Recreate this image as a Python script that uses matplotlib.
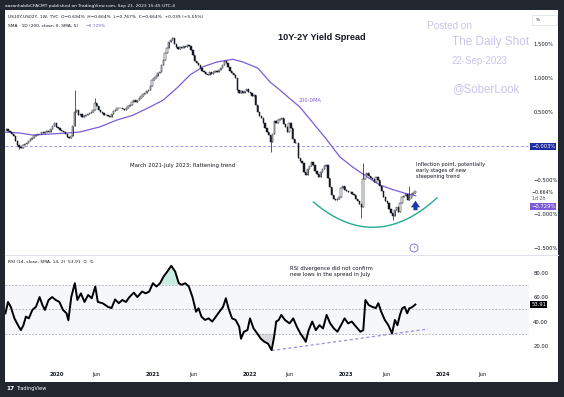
import numpy as np
import pandas as pd
import matplotlib
matplotlib.use('Agg')
import matplotlib.pyplot as plt
from matplotlib.patches import Rectangle, Ellipse

# ---- data ----
# weekly closes of US10Y-US02Y (%), last bar = week of 2023-09-18
closes = [0.23, 0.25, 0.22, 0.20, 0.17, 0.14, 0.08, 0.02, -0.01, -0.03,
          0.01, 0.03, 0.05, 0.07, 0.10, 0.12, 0.14, 0.16, 0.17, 0.18,
          0.20, 0.19, 0.21, 0.22, 0.21, 0.25, 0.30, 0.33, 0.28, 0.26,
          0.24, 0.22, 0.20, 0.17, 0.13, 0.11, 0.15, 0.29, 0.50, 0.53,
          0.45, 0.47, 0.43, 0.44, 0.46, 0.47, 0.48, 0.50, 0.53, 0.63,
          0.58, 0.52, 0.50, 0.48, 0.46, 0.45, 0.44, 0.42, 0.47, 0.51,
          0.53, 0.55, 0.56, 0.55, 0.54, 0.53, 0.56, 0.58, 0.60, 0.64,
          0.67, 0.65, 0.68, 0.71, 0.73, 0.76, 0.78, 0.80, 0.82, 0.88,
          0.97, 1.00, 1.03, 1.07, 1.08, 1.18, 1.26, 1.36, 1.43, 1.52,
          1.55, 1.58, 1.50, 1.45, 1.42, 1.45, 1.43, 1.46, 1.45, 1.48,
          1.47, 1.41, 1.33, 1.25, 1.22, 1.18, 1.14, 1.10, 1.08, 1.06,
          1.04, 1.09, 1.06, 1.08, 1.10, 1.09, 1.12, 1.14, 1.19, 1.24,
          1.22, 1.15, 1.10, 1.07, 1.04, 1.00, 0.82, 0.78, 0.80, 0.78,
          0.81, 0.84, 0.79, 0.77, 0.73, 0.74, 0.60, 0.50, 0.44, 0.41,
          0.33, 0.26, 0.21, 0.16, 0.06, 0.18, 0.36, 0.33, 0.38, 0.40,
          0.41, 0.32, 0.28, 0.20, 0.34, 0.26, 0.10, 0.05, 0.04, -0.17,
          -0.22, -0.25, -0.38, -0.42, -0.33, -0.30, -0.23, -0.28, -0.36, -0.41,
          -0.45, -0.38, -0.33, -0.30, -0.28, -0.47, -0.60, -0.72, -0.78, -0.79,
          -0.77, -0.74, -0.62, -0.58, -0.64, -0.66, -0.68, -0.67, -0.70, -0.72,
          -0.77, -0.81, -0.85, -0.89, -0.48, -0.42, -0.40, -0.44, -0.47, -0.49,
          -0.53, -0.45, -0.50, -0.58, -0.66, -0.75, -0.80, -0.84, -0.92, -0.98,
          -1.02, -0.93, -0.89, -0.97, -0.84, -0.75, -0.73, -0.71, -0.79, -0.76,
          -0.70, -0.69, -0.664]
last_week = '2023-09-18'
wick_high = {38: 0.82, 49: 0.70, 91: 1.60, 194: -0.25, 219: -0.58}
wick_low = {8: -0.05, 144: -0.09, 193: -1.05, 210: -1.08}

# 200-day SMA
sma_dates = ['2019-06-19', '2019-08-15', '2019-10-03', '2019-12-07', '2020-02-09', '2020-03-29',
             '2020-06-13', '2020-08-16', '2020-10-16', '2020-12-19', '2021-02-07', '2021-04-01',
             '2021-05-20', '2021-07-08', '2021-08-30', '2021-10-29', '2021-12-06', '2022-02-01',
             '2022-03-18', '2022-04-25', '2022-06-03', '2022-07-10', '2022-08-28', '2022-10-20',
             '2022-12-08', '2023-01-26', '2023-03-20', '2023-05-08', '2023-06-27', '2023-08-19',
             '2023-09-21']
sma_vals = [0.205, 0.19, 0.16, 0.175, 0.19, 0.205, 0.28, 0.38, 0.45, 0.57, 0.67, 0.85,
            1.04, 1.16, 1.23, 1.27, 1.23, 1.14, 0.94, 0.82, 0.69, 0.57, 0.34, 0.09,
            -0.16, -0.31, -0.45, -0.57, -0.64, -0.70, -0.729]

# RSI(14) in decimal years
rsi_t = [2019.469, 2019.495, 2019.524, 2019.562, 2019.599, 2019.629, 2019.655, 2019.681, 2019.711, 2019.748,
         2019.785, 2019.823, 2019.852, 2019.878, 2019.916, 2019.953, 2019.990, 2020.028, 2020.065, 2020.102,
         2020.121, 2020.151, 2020.188, 2020.214, 2020.251, 2020.288, 2020.326, 2020.363, 2020.400, 2020.426,
         2020.475, 2020.531, 2020.568, 2020.605, 2020.643, 2020.680, 2020.717, 2020.754, 2020.799, 2020.836,
         2020.885, 2020.922, 2020.959, 2020.997, 2021.034, 2021.071, 2021.108, 2021.146, 2021.187, 2021.228,
         2021.265, 2021.295, 2021.332, 2021.369, 2021.407, 2021.444, 2021.470, 2021.500, 2021.537, 2021.574,
         2021.612, 2021.649, 2021.686, 2021.724, 2021.753, 2021.780, 2021.817, 2021.854, 2021.891, 2021.910,
         2021.940, 2021.977, 2022.003, 2022.040, 2022.078, 2022.115, 2022.152, 2022.189, 2022.227, 2022.253,
         2022.275, 2022.301, 2022.327, 2022.365, 2022.413, 2022.451, 2022.488, 2022.525, 2022.562, 2022.581,
         2022.611, 2022.648, 2022.685, 2022.723, 2022.760, 2022.797, 2022.834, 2022.872, 2022.909, 2022.946,
         2022.983, 2023.020, 2023.058, 2023.102, 2023.147, 2023.177, 2023.199, 2023.233, 2023.270, 2023.307,
         2023.333, 2023.363, 2023.400, 2023.437, 2023.475, 2023.505, 2023.531, 2023.557, 2023.580, 2023.606,
         2023.632, 2023.654, 2023.680, 2023.717]
rsi_v = [46.7, 56.0, 52.0, 42.6, 37.0, 33.0, 37.0, 44.0, 42.6, 49.5,
         52.0, 60.0, 53.5, 49.5, 57.6, 60.0, 57.6, 56.0, 49.5, 46.7,
         41.0, 60.0, 71.3, 57.6, 63.0, 56.0, 61.7, 59.0, 68.6, 56.0,
         55.0, 52.0, 51.0, 58.0, 55.0, 57.6, 56.0, 60.0, 63.6, 60.0,
         64.5, 63.0, 64.5, 71.3, 68.6, 71.3, 76.8, 80.8, 85.5, 80.8,
         71.3, 70.0, 71.3, 68.6, 60.0, 48.0, 50.8, 44.0, 41.3, 42.6,
         40.0, 44.0, 48.0, 52.0, 59.0, 50.8, 42.6, 41.3, 35.8, 26.0,
         31.7, 33.0, 42.6, 34.4, 30.3, 26.0, 23.5, 22.0, 16.7, 27.6,
         40.0, 41.3, 45.4, 41.3, 38.5, 42.6, 35.8, 30.3, 26.0, 23.5,
         33.0, 40.0, 33.0, 37.0, 34.4, 45.4, 38.5, 34.4, 31.7, 37.0,
         42.6, 38.5, 40.0, 35.8, 31.7, 33.0, 57.6, 53.5, 52.0, 51.0,
         55.0, 48.0, 41.3, 37.0, 30.3, 41.3, 37.0, 45.4, 50.8, 52.0,
         46.7, 50.8, 51.6, 53.91]

# drawings on the chart
arc_t = [2022.66, 2023.28, 2023.94]
arc_v = [-0.82, -1.19, -0.76]
div_t = [2022.227, 2023.848]
div_v = [16.3, 33.9]
hline_v = -0.003
arrow_t = 2023.718
arrow_v = (-0.94, -0.80)

price_ticks = [1.5, 1.0, 0.5, -0.5, -1.0, -1.5]
rsi_ticks = [80, 60, 40, 20]
time_ticks = ['2020-01-01', '2020-06-01', '2021-01-01', '2021-06-01', '2022-01-01',
              '2022-06-01', '2023-01-01', '2023-06-01', '2024-01-01', '2024-06-01']
time_labels = ['2020', 'Jun', '2021', 'Jun', '2022', 'Jun', '2023', 'Jun', '2024', 'Jun']


def dec_year(d):
    d = pd.Timestamp(d)
    days = 366 if d.is_leap_year else 365
    return d.year + (d.dayofyear - 1) / days


def pct(v):
    return f'{v:.3f}%'.replace('-', '\u2212')


W, H = 564, 397
TXT = '#131722'
PURPLE = '#7b5cd6'


def fx(x):
    return x / W


def fy(y):
    return 1 - y / H


fig = plt.figure(figsize=(W / 100, H / 100), dpi=100, facecolor='#22262f')
fig.add_artist(Rectangle((fx(5), fy(382)), fx(558) - fx(5), fy(10) - fy(382),
                         transform=fig.transFigure, facecolor='white', edgecolor='none', zorder=0))

ax = fig.add_axes([fx(5), fy(254), fx(529) - fx(5), fy(10) - fy(254)])
ax2 = fig.add_axes([fx(5), fy(366), fx(529) - fx(5), fy(256) - fy(366)])
for a in (ax, ax2):
    a.set_facecolor('none')
    for s in a.spines.values():
        s.set_visible(False)

x_lo = 2020 + (5 - 56.7) / 96.5
x_hi = 2020 + (529 - 56.7) / 96.5

# ---- candles ----
t = np.array([dec_year(d) for d in pd.date_range(end=last_week, periods=len(closes), freq='W-MON')])
c = np.array(closes)
o = np.r_[c[0], c[:-1]]
hi = np.maximum(o, c)
lo = np.minimum(o, c)
for i, v in wick_high.items():
    hi[i] = max(hi[i], v)
for i, v in wick_low.items():
    lo[i] = min(lo[i], v)
up = c >= o
bw = 5 / 365
ax.vlines(t, lo, hi, color=TXT, lw=0.5, zorder=3)
body = np.maximum(np.abs(c - o), 0.01)
ax.bar(t[up], body[up], bottom=o[up], width=bw, facecolor='white', edgecolor=TXT, lw=0.35, zorder=4)
ax.bar(t[~up], body[~up], bottom=c[~up], width=bw, facecolor=TXT, edgecolor=TXT, lw=0.35, zorder=4)

# SMA
ax.plot([dec_year(d) for d in sma_dates], sma_vals, color=PURPLE, lw=0.9, zorder=2)

# horizontal line, arc, arrow
ax.axhline(hline_v, color='#a49be3', lw=0.7, dashes=(3, 2), zorder=1)
coef = np.polyfit(arc_t, arc_v, 2)
arc_x = np.linspace(arc_t[0], arc_t[-1], 80)
ax.plot(arc_x, np.polyval(coef, arc_x), color='#22ab94', lw=1.0, zorder=2)
ax.annotate('', xy=(arrow_t, arrow_v[1]), xytext=(arrow_t, arrow_v[0]),
            arrowprops=dict(arrowstyle='simple,head_width=1.1,head_length=0.8,tail_width=0.5',
                            mutation_scale=6, color='#1d3aa8', lw=0, shrinkA=0, shrinkB=0), zorder=5)

ax.set_xlim(x_lo, x_hi)
ax.set_ylim((146 - 254) / 68.3, (146 - 10) / 68.3)
ax.set_xticks([])
ax.yaxis.tick_right()
ax.set_yticks(price_ticks)
ax.set_yticklabels([pct(v) for v in price_ticks])
ax.tick_params(axis='y', length=0, pad=3, labelsize=3.8, labelcolor=TXT)

# price scale markers (TradingView stacks them apart)
ax.text(1.004, hline_v, pct(hline_v), transform=ax.get_yaxis_transform(), fontsize=3.8, color='white',
        va='center', bbox=dict(facecolor='#1c2ba0', edgecolor='none', pad=0.8))
fig.text(fx(532), fy(192.3), pct(c[-1]), fontsize=3.4, color=TXT, va='center')
fig.text(fx(532), fy(198.5), '1d 2h', fontsize=3.4, color='#50535e', va='center')
fig.text(fx(531), fy(206.3), pct(sma_vals[-1]), fontsize=3.8, color='white', va='center',
         bbox=dict(facecolor=PURPLE, edgecolor='none', pad=0.8))

# ---- RSI ----
ax2.axhspan(30, 70, facecolor='#f5f7fb', edgecolor='none', zorder=0)
rt = np.array(rsi_t)
rv = np.array(rsi_v)
ax2.fill_between(rt, 70, rv, where=rv > 70, interpolate=True, color='#c9ece2', lw=0, zorder=1)
ax2.fill_between(rt, 30, rv, where=rv < 30, interpolate=True, color='#dadbdf', lw=0, zorder=1)
for lvl in (70, 50, 30):
    ax2.axhline(lvl, color='#a3a6af', lw=0.6, dashes=(2, 2), zorder=1)
ax2.plot(rt, rv, color='black', lw=1.4, zorder=3)
ax2.plot(div_t, div_v, color='#9c8fe6', lw=0.9, dashes=(2.5, 2), zorder=2)
ax2.set_xlim(x_lo, x_hi)
ax2.set_ylim(50 - (366 - 309.3) / 1.225, 50 + (309.3 - 256) / 1.225)
ax2.yaxis.tick_right()
ax2.set_yticks(rsi_ticks)
ax2.set_yticklabels([f'{v:.2f}' for v in rsi_ticks])
ax2.tick_params(axis='y', length=0, pad=3, labelsize=3.8, labelcolor=TXT)
ax2.set_xticks([dec_year(d) for d in time_ticks])
ax2.set_xticklabels(time_labels)
ax2.tick_params(axis='x', length=0, pad=4.5, labelsize=3.8, labelcolor=TXT)
for lab in ax2.get_xticklabels():
    if lab.get_text() != 'Jun':
        lab.set_fontweight('bold')
ax2.text(1.004, rv[-1], f'{rv[-1]:.2f}', transform=ax2.get_yaxis_transform(), fontsize=3.8,
         color='white', va='center', bbox=dict(facecolor='black', edgecolor='none', pad=0.8))

# pane separator
fig.add_artist(plt.Line2D([fx(5), fx(558)], [fy(255), fy(255)], transform=fig.transFigure,
                          color='#e0e3eb', lw=0.8))

# ---- texts ----
fig.text(fx(5), fy(5.5), 'aazanhabibCFACMT published on TradingView.com, Sep 21, 2023 15:45 UTC-4',
         color='white', fontsize=3.2, va='center')
fig.text(fx(8), fy(17), 'US10Y-US02Y, 1W, TVC  O\u22120.694%  H\u22120.664%  L\u22120.767%  C\u22120.664%  +0.039 (+5.55%)',
         color=TXT, fontsize=3.2, va='center')
fig.text(fx(8), fy(26), 'SMA \u00b7 1D (200, close, 0, SMA, 5)', color=TXT, fontsize=3.2, va='center')
fig.text(fx(86), fy(26), pct(sma_vals[-1]), color=PURPLE, fontsize=3.2, va='center')
fig.text(fx(8), fy(262), 'RSI (14, close, SMA, 14, 2)  53.91  \u2205  \u2205', color=TXT, fontsize=3.2, va='center')

fig.text(fx(321.5), fy(37.5), '10Y-2Y Yield Spread', family='Liberation Sans', fontweight='bold',
         fontsize=6.6, color=TXT, ha='center', va='center')
fig.text(fx(299), fy(101), '200-DMA', color=PURPLE, fontsize=3.6, va='center')
fig.text(fx(130), fy(165), 'March 2021-July 2023: flattening trend', color=TXT, fontsize=3.9, va='center')
fig.text(fx(416), fy(170.5), 'Inflection point, potentially\nearly stages of new\nsteepening trend',
         color=TXT, fontsize=3.7, va='center', linespacing=1.25)
fig.text(fx(290), fy(271.5), 'RSI divergence did not confirm\nnew lows in the spread in July',
         color=TXT, fontsize=3.9, va='center', linespacing=1.2)

WM = '#c8c5ea'
fig.text(fx(427), fy(26), 'Posted on', family='Liberation Sans', fontsize=7.2, color=WM, va='center')
fig.text(fx(452), fy(42), 'The Daily Shot', family='Liberation Sans', fontsize=8.5, color=WM, va='center')
fig.text(fx(452), fy(61), '22-Sep-2023', family='Liberation Sans', fontsize=7.0, color=WM, va='center')
fig.text(fx(452), fy(89), '@SoberLook', family='Liberation Sans', fontsize=8.3, color=WM, va='center')

# "%" box and event icon
fig.add_artist(Rectangle((fx(532), fy(25)), fx(557) - fx(532), fy(15) - fy(25), transform=fig.transFigure,
                         facecolor='white', edgecolor='#e0e3eb', lw=0.6))
fig.text(fx(536), fy(20), '%', color=TXT, fontsize=3.2, va='center')
fig.add_artist(Ellipse((fx(414), fy(248)), 8 / W, 8 / H, transform=fig.transFigure,
                       facecolor='white', edgecolor='#8a72e0', lw=0.7))
fig.text(fx(414), fy(248), '\u26a1', color='#8a72e0', fontsize=3.2, ha='center', va='center')

# bottom bar
fig.text(fx(6), fy(388.5), '17', color='white', fontsize=4.2, fontweight='bold', va='center')
fig.text(fx(16), fy(388.5), 'TradingView', color='white', fontsize=3.6, va='center')

fig.savefig('out.png', dpi=100, facecolor=fig.get_facecolor())
